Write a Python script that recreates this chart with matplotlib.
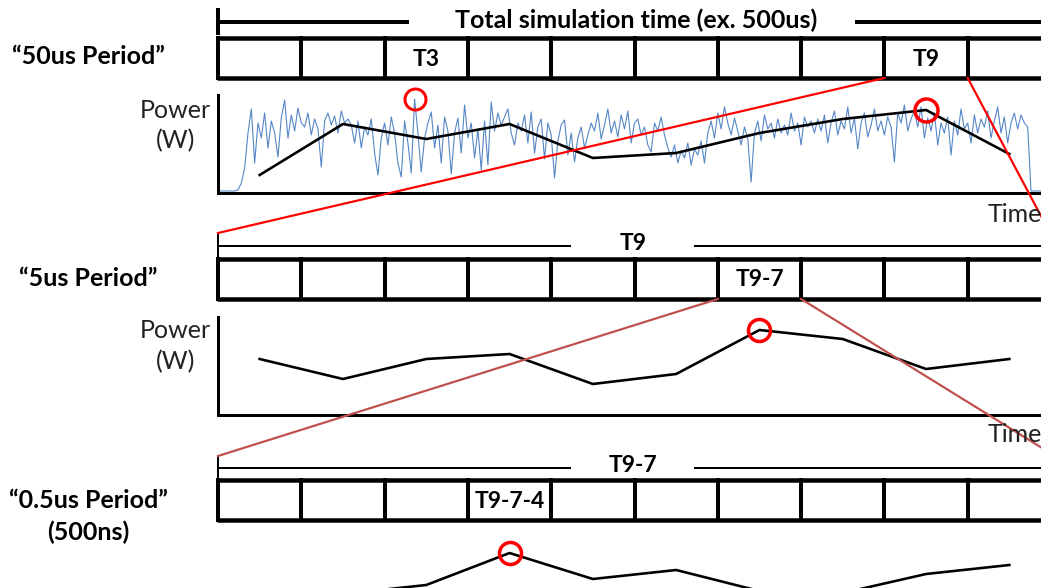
import numpy as np
import matplotlib.pyplot as plt

plt.rcParams['font.family'] = ['Lato', 'DejaVu Sans']

W, H = 1041, 588

# ---- data ----
# measured power trace over the whole run, one sample per 2 us
trace_t = np.arange(0, 500, 2)
trace_p = [2, 2, 2, 2, 2, 2, 3, 10, 25, 60,
           84, 30, 70, 55, 80, 45, 72, 60, 36, 75,
           93, 55, 78, 62, 85, 70, 66, 80, 58, 74,
           64, 26, 72, 80, 68, 77, 60, 82, 70, 74,
           68, 50, 72, 45, 66, 58, 74, 40, 18, 55,
           70, 48, 76, 60, 30, 16, 72, 50, 20, 94,
           60, 21, 55, 70, 81, 45, 68, 30, 76, 62,
           19, 60, 75, 40, 88, 55, 70, 35, 64, 23,
           72, 28, 91, 62, 80, 68, 76, 84, 60, 48,
           70, 62, 78, 50, 81, 40, 66, 74, 34, 70,
           58, 15, 52, 68, 73, 38, 60, 31, 55, 66,
           45, 58, 70, 62, 80, 54, 68, 84, 60, 72,
           56, 78, 64, 82, 50, 70, 74, 58, 66, 48,
           41, 70, 62, 76, 58, 45, 36, 48, 30, 42,
           35, 50, 28, 44, 38, 52, 30, 60, 72, 55,
           80, 64, 86, 70, 58, 75, 62, 48, 66, 54,
           11, 60, 72, 52, 78, 64, 70, 55, 74, 60,
           68, 58, 80, 62, 70, 48, 76, 66, 72, 60,
           74, 62, 78, 50, 70, 82, 58, 72, 64, 86,
           60, 75, 44, 70, 80, 56, 68, 84, 62, 72,
           58, 76, 66, 31, 80, 70, 88, 62, 74, 82,
           66, 86, 55, 75, 62, 80, 48, 70, 60, 76,
           38, 72, 58, 84, 64, 70, 50, 78, 60, 74,
           66, 82, 55, 72, 86, 60, 76, 50, 70, 80,
           64, 78, 70, 66, 2, 2, 2, 2, 2, 2]
trace_peak = 59

# average power per 50us window T1..T10
p50_t = np.arange(25, 500, 50)
p50 = [18, 69, 54, 69, 35, 40, 60, 74, 83, 39]
# 5us windows inside T9 (450-500us)
p5_t = np.arange(452.5, 500, 5)
p5 = [56, 36, 56, 61, 31, 41, 85, 76, 46, 56]
# 0.5us windows inside T9-7 (480-485us)
p05_t = np.arange(480.25, 485, 0.5)
p05 = [20, 26, 35, 67, 41, 50, 29, 27, 46, 55]

row_names = ['“50us Period”', '“5us Period”', '“0.5us Period”']
span_names = ['Total simulation time (ex. 500us)', 'T9', 'T9-7']
cell_names = ['T3', 'T9', 'T9-7', 'T9-7-4']
n_cells = 10

# ---- layout (pixels) ----
X0, CW = 218, 83.3
fig = plt.figure(figsize=(W / 100, H / 100), dpi=100)


def px(v):
    return v * 0.72


def power_axes(top, bottom, xlim, spines=True):
    ax = fig.add_axes([X0 / W, 1 - bottom / H, n_cells * CW / W, (bottom - top) / H])
    ax.set_xlim(*xlim)
    ax.set_ylim(0, bottom - top)
    ax.set_xticks([])
    ax.set_yticks([])
    ax.patch.set_alpha(0)
    for s in ['top', 'right']:
        ax.spines[s].set_visible(False)
    for s in ['left', 'bottom']:
        ax.spines[s].set_linewidth(px(3))
        ax.spines[s].set_visible(spines)
    return ax


ax1 = power_axes(95, 193, (0, 500))
ax1.plot(trace_t, trace_p, color='#5587c6', lw=0.8)
ax1.plot(p50_t, p50, color='black', lw=px(2.6))
ax1.plot(trace_t[trace_peak], trace_p[trace_peak], 'o', ms=px(21), mfc='none',
         mec='red', mew=px(3), clip_on=False)
ax1.plot(p50_t[8], p50[8], 'o', ms=px(23), mfc='none', mec='red', mew=px(3.5),
         clip_on=False)

ax2 = power_axes(317, 415, (450, 500))
ax2.plot(p5_t, p5, color='black', lw=px(2.6))
ax2.plot(p5_t[6], p5[6], 'o', ms=px(22), mfc='none', mec='red', mew=px(3.5),
         clip_on=False)

ax3 = power_axes(538, 620, (480, 485), spines=False)
ax3.plot(p05_t, p05, color='black', lw=px(2.6))
ax3.plot(p05_t[3], p05[3], 'o', ms=px(22), mfc='none', mec='red', mew=px(3.5),
         clip_on=False)

# ---- diagram overlay in pixel coords ----
ov = fig.add_axes([0, 0, 1, 1], zorder=5)
ov.set_xlim(0, W)
ov.set_ylim(H, 0)
ov.axis('off')
ov.patch.set_alpha(0)

edges = X0 + CW * np.arange(n_cells + 1)
cell_font = dict(fontsize=16.5, fontweight='bold', ha='center', va='center')
name_font = dict(fontsize=18, fontweight='bold', ha='center', va='center')
reg = dict(fontsize=18, ha='center', va='center', color='#222222')


def cell_row(top, bot, label, idx):
    ov.plot([X0 - 1, W + 20], [top, top], color='black', lw=px(4.5), solid_capstyle='butt')
    ov.plot([X0 - 1, W + 20], [bot, bot], color='black', lw=px(4.5), solid_capstyle='butt')
    for e in edges:
        ov.plot([e, e], [top, bot], color='black', lw=px(4))
    ov.text(edges[idx] + CW / 2, (top + bot) / 2 + 1, label, **cell_font)


# top bracket
ov.plot([X0, X0], [10, 33], color='black', lw=px(4))
ov.plot([X0, 407], [22, 22], color='black', lw=px(4))
ov.plot([857, W], [22, 22], color='black', lw=px(4))
ov.text(636, 20, span_names[0], **name_font)
cell_row(38, 78, cell_names[0], 2)
ov.text(edges[8] + CW / 2, 59, cell_names[1], **cell_font)
ov.text(88, 57, row_names[0], **name_font)

# second / third brackets
for y_tick, y_line, name in [(233, 246, span_names[1]), (456, 468, span_names[2])]:
    ov.plot([X0, X0], [y_tick, y_line + 11], color='black', lw=px(2))
    ov.plot([X0, 570], [y_line, y_line], color='black', lw=px(2))
    ov.plot([695, W], [y_line, y_line], color='black', lw=px(2))
    ov.text(633, y_line - 3, name, **cell_font)

cell_row(259, 299, cell_names[2], 6)
ov.text(88, 278, row_names[1], **name_font)
cell_row(480, 520, cell_names[3], 3)
ov.text(88, 500, row_names[2], **name_font)
ov.text(88, 532, '(500ns)', **name_font)

for y in (110, 331):
    ov.text(175, y, 'Power', **reg)
    ov.text(176, y + 31, '(W)', **reg)
for y in (214, 435):
    ov.text(988, y, 'Time', fontsize=18, ha='left', va='center', color='#222222')

# zoom connectors
ov.plot([edges[8], X0], [78, 233], color='red', lw=px(2.2))
ov.plot([edges[9], 1050], [78, 233], color='red', lw=px(2.2))
ov.plot([edges[6], X0], [299, 456], color='#c0504d', lw=px(2.2))
ov.plot([edges[7], 1055], [299, 456], color='#c0504d', lw=px(2.2))

fig.savefig('out.png', dpi=100)
